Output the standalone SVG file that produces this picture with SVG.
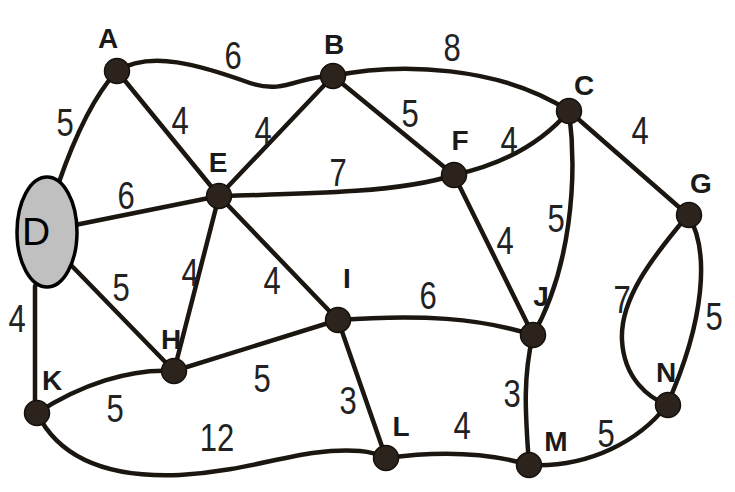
<svg xmlns="http://www.w3.org/2000/svg" width="735" height="492" viewBox="0 0 735 492">
<style>
.e{fill:none;stroke:#1c1610;stroke-width:4.5;stroke-linecap:round}
.n{fill:#2b231c;stroke:#15100c;stroke-width:1.5}
.w{font-family:"Liberation Sans",Arial,sans-serif;font-size:31px;fill:#222;text-anchor:middle}
.l{font-family:"Liberation Sans",Arial,sans-serif;font-size:28px;font-weight:bold;fill:#1a1a1a;text-anchor:middle}
</style>
<rect width="735" height="492" fill="#ffffff"/>
<g id="connectors">
<path class="e" d="M117,71 C150,50 200,65 250,83 C285,95 300,75 333,76"/>
<path class="e" d="M333,76 C400,62 500,66 569,111"/>
<path class="e" d="M117,71 C90,100 70,150 58,185"/>
<path class="e" d="M117,71 L219,196"/>
<path class="e" d="M333,76 L219,196"/>
<path class="e" d="M333,76 L454,175"/>
<path class="e" d="M219,196 C300,194 400,193 454,175"/>
<path class="e" d="M454,175 C500,165 540,145 569,111"/>
<path class="e" d="M569,111 L688,215"/>
<path class="e" d="M569,111 C578,180 570,270 533,335"/>
<path class="e" d="M75,225 L219,196"/>
<path class="e" d="M68,262 L174,371"/>
<path class="e" d="M35,286 L35,413"/>
<path class="e" d="M219,196 L174,371"/>
<path class="e" d="M219,196 L338,320"/>
<path class="e" d="M454,175 L533,335"/>
<path class="e" d="M338,320 C420,314 480,318 533,335"/>
<path class="e" d="M174,371 L338,320"/>
<path class="e" d="M37,413 C80,385 130,368 174,371"/>
<path class="e" d="M37,413 C60,460 110,478 180,475 C260,470 300,447 360,451 C372,452 380,455 386,458"/>
<path class="e" d="M338,320 L386,458"/>
<path class="e" d="M386,458 C430,452 480,450 529,465"/>
<path class="e" d="M533,335 C522,380 526,420 529,465"/>
<path class="e" d="M529,465 C590,468 640,440 667,405"/>
<path class="e" d="M688,215 C650,260 620,300 622,340 C624,380 650,398 667,405"/>
<path class="e" d="M688,215 C710,250 705,320 667,405"/>
</g>
<g id="D"><ellipse cx="47" cy="232" rx="30" ry="55" fill="#c0c0c0" stroke="#000" stroke-width="3.5"/><text x="36" y="245" font-family="'Liberation Sans',Arial,sans-serif" font-size="39" fill="#000" text-anchor="middle">D</text></g>
<g id="A"><circle class="n" cx="117" cy="71" r="12.5"/><text class="l" x="108" y="48">A</text></g>
<g id="B"><circle class="n" cx="333" cy="76" r="12.5"/><text class="l" x="334" y="54">B</text></g>
<g id="C"><circle class="n" cx="569" cy="111" r="12.5"/><text class="l" x="584" y="95">C</text></g>
<g id="E"><circle class="n" cx="219" cy="196" r="12.5"/><text class="l" x="218" y="172">E</text></g>
<g id="F"><circle class="n" cx="454" cy="175" r="12.5"/><text class="l" x="460" y="150">F</text></g>
<g id="G"><circle class="n" cx="689" cy="215" r="12.5"/><text class="l" x="701" y="193">G</text></g>
<g id="H"><circle class="n" cx="174" cy="371" r="12.5"/><text class="l" x="171" y="349">H</text></g>
<g id="I"><circle class="n" cx="338" cy="320" r="12.5"/><text class="l" x="347" y="288">I</text></g>
<g id="J"><circle class="n" cx="533" cy="335" r="12.5"/><text class="l" x="541" y="306">J</text></g>
<g id="K"><circle class="n" cx="37" cy="413" r="12.5"/><text class="l" x="52" y="390">K</text></g>
<g id="L"><circle class="n" cx="386" cy="458" r="12.5"/><text class="l" x="401" y="436">L</text></g>
<g id="M"><circle class="n" cx="529" cy="465" r="12.5"/><text class="l" x="556" y="451">M</text></g>
<g id="N"><circle class="n" cx="668" cy="405" r="12.5"/><text class="l" x="666" y="382">N</text></g>
<g id="weights">
<text class="w" transform="translate(233,69) scale(1,1.25)">6</text>
<text class="w" transform="translate(452,61) scale(1,1.25)">8</text>
<text class="w" transform="translate(65,136) scale(1,1.25)">5</text>
<text class="w" transform="translate(180,134) scale(1,1.25)">4</text>
<text class="w" transform="translate(263,144) scale(1,1.25)">4</text>
<text class="w" transform="translate(410,127) scale(1,1.25)">5</text>
<text class="w" transform="translate(509,154) scale(1,1.25)">4</text>
<text class="w" transform="translate(640,144) scale(1,1.25)">4</text>
<text class="w" transform="translate(338,186) scale(1,1.25)">7</text>
<text class="w" transform="translate(126,209) scale(1,1.25)">6</text>
<text class="w" transform="translate(556,232) scale(1,1.25)">5</text>
<text class="w" transform="translate(505,254) scale(1,1.25)">4</text>
<text class="w" transform="translate(121,301) scale(1,1.25)">5</text>
<text class="w" transform="translate(190,286) scale(1,1.25)">4</text>
<text class="w" transform="translate(272,294) scale(1,1.25)">4</text>
<text class="w" transform="translate(428,309) scale(1,1.25)">6</text>
<text class="w" transform="translate(622,313) scale(1,1.25)">7</text>
<text class="w" transform="translate(714,330) scale(1,1.25)">5</text>
<text class="w" transform="translate(17,332) scale(1,1.25)">4</text>
<text class="w" transform="translate(262,392) scale(1,1.25)">5</text>
<text class="w" transform="translate(115,422) scale(1,1.25)">5</text>
<text class="w" transform="translate(217,451) scale(1,1.25)">12</text>
<text class="w" transform="translate(348,414) scale(1,1.25)">3</text>
<text class="w" transform="translate(512,407) scale(1,1.25)">3</text>
<text class="w" transform="translate(462,439) scale(1,1.25)">4</text>
<text class="w" transform="translate(606,447) scale(1,1.25)">5</text>
</g>
</svg>
